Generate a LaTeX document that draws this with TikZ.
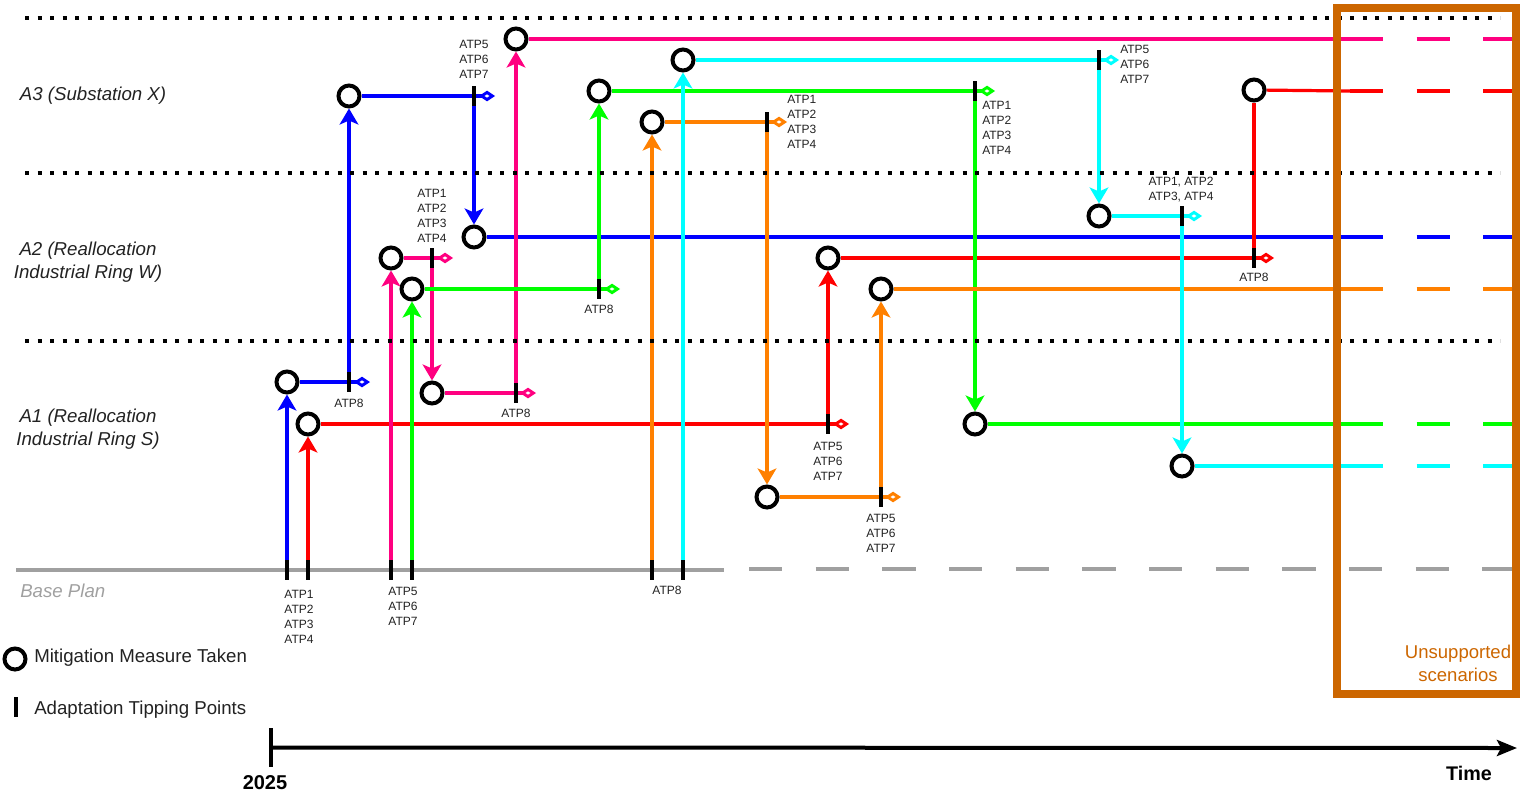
\documentclass[tikz,border=0pt]{standalone}
\usepackage{fontspec}
\setmainfont{Liberation Sans}
\usetikzlibrary{arrows.meta,backgrounds}
\definecolor{cblue}{HTML}{0000FF}
\definecolor{cred}{HTML}{FF0000}
\definecolor{cpink}{HTML}{FF0080}
\definecolor{cgreen}{HTML}{00FF00}
\definecolor{corange}{HTML}{FF8000}
\definecolor{ccyan}{HTML}{00FFFF}
\definecolor{cbase}{HTML}{A0A0A0}
\definecolor{cbox}{HTML}{CC6600}
\definecolor{ctext}{HTML}{222222}
\tikzset{
  mm/.style={circle, draw=black, line width=3pt, fill=white, minimum size=15.75pt, inner sep=0pt},
  atp/.style={rectangle, fill=black, minimum width=3pt, minimum height=15pt, inner sep=0pt},
  lbl/.style={font=\fontsize{9}{11.25}\selectfont, align=center, inner sep=0pt, text=ctext},
  lbll/.style={lbl, align=left, anchor=west},
  pw/.style={line width=2.4pt},
  up/.style={pw, -{Stealth[length=12pt,width=14pt,inset=3pt]}},
  dia/.style={pw, -{Diamond[open,length=12pt,width=8pt,line width=2.2pt]}},
  ext/.style={line width=2.4pt, dash pattern=on 25pt off 25pt},
  rowlbl/.style={font=\fontsize{14}{17.25}\selectfont\itshape, align=center, inner sep=0pt, text=ctext},
  sepline/.style={line width=3pt, dash pattern=on 3pt off 6.375pt},
  legtxt/.style={font=\fontsize{14}{17}\selectfont, anchor=west, inner sep=0pt, text=ctext},
}
\begin{document}
\begin{tikzpicture}[x=0.75pt,y=-0.75pt]
\useasboundingbox (0,0) rectangle (1530,796);

% separators
\foreach \yy in {18,173,341} \draw[sepline] (25,\yy) -- (1500,\yy);

% row labels
\node[rowlbl] (la3) at (93,96) {A3 (Substation X)};
\node[rowlbl] (la2) at (88,262) {A2 (Reallocation\\Industrial Ring W)};
\node[rowlbl] (la1) at (88,429) {A1 (Reallocation\\Industrial Ring S)};
\node[rowlbl, text=cbase, anchor=west] (lbp) at (20,591) {Base Plan};

% base plan coordinates
\coordinate (bp0) at (16,570);
\coordinate (bp1) at (724,570);
\coordinate (bp2) at (749,569);
\coordinate (bp3) at (1515,569);

% base ticks
\node[atp] (tb1) at (287,570) {};
\node[atp] (tr1) at (308,570) {};
\node[atp] (tp1) at (391,570) {};
\node[atp] (tg1) at (412,570) {};
\node[atp] (to1) at (652,570) {};
\node[atp] (tc1) at (683,570) {};
\node[lbl] (lb1) at (299,616.5) {ATP1\\ATP2\\ATP3\\ATP4};
\node[lbl] (lb2) at (403,606.5) {ATP5\\ATP6\\ATP7};
\node[lbl] (lb3) at (667,590) {ATP8};

% blue
\node[mm] (cb1) at (287,382) {};
\node[atp] (kb1) at (349,382) {};
\coordinate (db1) at (370,382);
\node[mm] (cb2) at (349,96) {};
\node[atp] (kb2) at (474,96) {};
\coordinate (db2) at (495,96);
\node[mm] (cb3) at (474,237) {};
\coordinate (eb) at (1350,237);
\coordinate (fb) at (1515,237);
\node[lbl] (lkb1) at (349,403) {ATP8};
\node[lbl] (lkb2) at (474,59) {ATP5\\ATP6\\ATP7};

% red
\node[mm] (cr1) at (308,424) {};
\node[atp] (kr1) at (828,424) {};
\coordinate (dr1) at (849,424);
\node[mm] (cr2) at (828,258) {};
\node[atp] (kr2) at (1254,258) {};
\coordinate (dr2) at (1274,258);
\node[mm] (cr3) at (1254,90) {};
\coordinate (er) at (1350,91);
\coordinate (fr) at (1515,91);
\node[lbl] (lkr1) at (828,461) {ATP5\\ATP6\\ATP7};
\node[lbl] (lkr2) at (1254,277) {ATP8};

% pink
\node[mm] (cp1) at (391,258) {};
\node[atp] (kp1) at (432,258) {};
\coordinate (dp1) at (453,258);
\node[mm] (cp2) at (432,393) {};
\node[atp] (kp2) at (516,393) {};
\coordinate (dp2) at (536,393);
\node[mm] (cp3) at (516,39) {};
\coordinate (ep) at (1350,39);
\coordinate (fp) at (1515,39);
\node[lbl] (lkp1) at (432,215.5) {ATP1\\ATP2\\ATP3\\ATP4};
\node[lbl] (lkp2) at (516,413) {ATP8};

% green
\node[mm] (cg1) at (412,289) {};
\node[atp] (kg1) at (599,289) {};
\coordinate (dg1) at (620,289);
\node[mm] (cg2) at (599,91) {};
\node[atp] (kg2) at (975,91) {};
\coordinate (dg2) at (995,91);
\node[mm] (cg3) at (975,424) {};
\coordinate (eg) at (1350,424);
\coordinate (fg) at (1515,424);
\node[lbl] (lkg1) at (599,309) {ATP8};
\node[lbll] (lkg2) at (982,127.5) {ATP1\\ATP2\\ATP3\\ATP4};

% orange
\node[mm] (co1) at (652,122) {};
\node[atp] (ko1) at (767,122) {};
\coordinate (do1) at (787,122);
\node[mm] (co2) at (767,497) {};
\node[atp] (ko2) at (881,497) {};
\coordinate (do2) at (901,497);
\node[mm] (co3) at (881,289) {};
\coordinate (eo) at (1350,289);
\coordinate (fo) at (1515,289);
\node[lbll] (lko1) at (787,122) {ATP1\\ATP2\\ATP3\\ATP4};
\node[lbl] (lko2) at (881,533) {ATP5\\ATP6\\ATP7};

% cyan
\node[mm] (cc1) at (683,60) {};
\node[atp] (kc1) at (1099,60) {};
\coordinate (dc1) at (1119,60);
\node[mm] (cc2) at (1099,216) {};
\node[atp] (kc2) at (1182,216) {};
\coordinate (dc2) at (1202,216);
\node[mm] (cc3) at (1182,466) {};
\coordinate (ec) at (1350,466);
\coordinate (fc) at (1515,466);
\node[lbll] (lkc1) at (1120,64) {ATP5\\ATP6\\ATP7};
\node[lbl] (lkc2) at (1181,189.5) {ATP1, ATP2\\ATP3, ATP4};

\begin{pgfonlayer}{background}
  % base plan
  \draw[cbase, line width=3pt] (bp0) -- (bp1);
  \draw[cbase, line width=3pt, dash pattern=on 25pt off 25pt] (bp2) -- (bp3);
  % blue
  \draw[up, cblue] (tb1) -- (cb1);
  \draw[dia, cblue] (cb1) -- (db1);
  \draw[up, cblue] (kb1) -- (cb2);
  \draw[dia, cblue] (cb2) -- (db2);
  \draw[up, cblue] (kb2) -- (cb3);
  \draw[pw, cblue] (cb3) -- (eb);
  \draw[ext, cblue] (eb) -- (fb);
  % red
  \draw[up, cred] (tr1) -- (cr1);
  \draw[dia, cred] (cr1) -- (dr1);
  \draw[up, cred] (kr1) -- (cr2);
  \draw[dia, cred] (cr2) -- (dr2);
  \draw[pw, cred] (kr2) -- (cr3);
  \draw[pw, cred] (cr3) -- (er);
  \draw[ext, cred] (er) -- (fr);
  % pink
  \draw[up, cpink] (tp1) -- (cp1);
  \draw[dia, cpink] (cp1) -- (dp1);
  \draw[up, cpink] (kp1) -- (cp2);
  \draw[dia, cpink] (cp2) -- (dp2);
  \draw[up, cpink] (kp2) -- (cp3);
  \draw[pw, cpink] (cp3) -- (ep);
  \draw[ext, cpink] (ep) -- (fp);
  % green
  \draw[up, cgreen] (tg1) -- (cg1);
  \draw[dia, cgreen] (cg1) -- (dg1);
  \draw[up, cgreen] (kg1) -- (cg2);
  \draw[dia, cgreen] (cg2) -- (dg2);
  \draw[up, cgreen] (kg2) -- (cg3);
  \draw[pw, cgreen] (cg3) -- (eg);
  \draw[ext, cgreen] (eg) -- (fg);
  % orange
  \draw[up, corange] (to1) -- (co1);
  \draw[dia, corange] (co1) -- (do1);
  \draw[up, corange] (ko1) -- (co2);
  \draw[dia, corange] (co2) -- (do2);
  \draw[up, corange] (ko2) -- (co3);
  \draw[pw, corange] (co3) -- (eo);
  \draw[ext, corange] (eo) -- (fo);
  % cyan
  \draw[up, ccyan] (tc1) -- (cc1);
  \draw[dia, ccyan] (cc1) -- (dc1);
  \draw[up, ccyan] (kc1) -- (cc2);
  \draw[dia, ccyan] (cc2) -- (dc2);
  \draw[up, ccyan] (kc2) -- (cc3);
  \draw[pw, ccyan] (cc3) -- (ec);
  \draw[ext, ccyan] (ec) -- (fc);
\end{pgfonlayer}

% legend
\node[mm] (legc) at (15,659) {};
\node[legtxt] (legct) at (34,658) {Mitigation Measure Taken};
\node[atp, minimum width=3.6pt] (legb) at (16,707) {};
\node[legtxt] (legbt) at (34,710) {Adaptation Tipping Points};

% time axis
\node[atp, minimum width=2.4pt, minimum height=29pt] (ax0) at (271,747.5) {};
\coordinate (ax1) at (1517,748);
\draw[line width=3pt, -{Stealth[length=15pt,width=12pt,inset=3pt]}] (ax0.center) -- (ax1);
\node[font=\fontsize{15}{18}\selectfont\bfseries, inner sep=0pt] (y2025) at (265,783) {2025};
\node[font=\fontsize{14.8}{18}\selectfont\bfseries, inner sep=0pt] (ttime) at (1469,773) {Time};

% unsupported box
\node[draw=cbox, line width=6pt, minimum width=134pt, minimum height=514.5pt, inner sep=0pt] (ubox) at (1426.5,351) {};
\node[font=\fontsize{13.9}{17.25}\selectfont, text=cbox, align=center, inner sep=0pt] (utxt) at (1458,663.5) {Unsupported\\scenarios};
\end{tikzpicture}
\end{document}
